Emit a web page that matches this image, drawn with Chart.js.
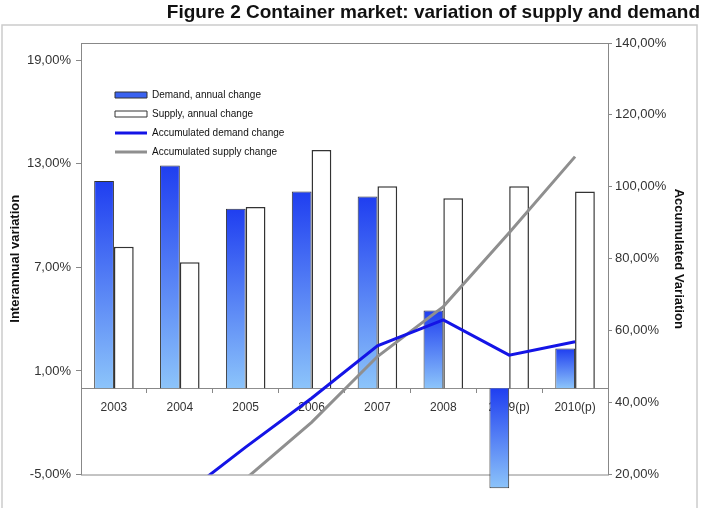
<!DOCTYPE html>
<html>
<head>
<meta charset="utf-8">
<title>Container market</title>
<script src="https://cdn.jsdelivr.net/npm/chart.js@4.4.1/dist/chart.umd.min.js"></script>
<style>
  html, body { margin: 0; padding: 0; background: #fff; }
  #chart { display: block; }
</style>
</head>
<body>
<canvas id="chart" width="703" height="508"></canvas>
<script>
// Data
const years = ['2003', '2004', '2005', '2006', '2007', '2008', '2009(p)', '2010(p)']
const demandAnnual = [12.0, 12.9, 10.4, 11.4, 11.1, 4.5, -5.8, 2.3]
const supplyAnnual = [8.2, 7.3, 10.5, 13.8, 11.7, 11.0, 11.7, 11.4]
const demandAccum = [0, 13.5, 27.6, 41.2, 55.8, 63.0, 53.2, 56.9]
const supplyAccum = [0, 7.3, 18.8, 34.5, 52.8, 66.7, 87.2, 108.4]
const leftTicks = [-5, 1, 7, 13, 19]

const FONT = "'Liberation Sans', Arial, sans-serif"

// Format 13 -> "13,00%"
function pct(v) {
  return Number(v).toFixed(2).replace('.', ',') + '%'
}

// Gradient running from the top of each demand bar to its bottom
function demandFill(context) {
  const chart = context.chart
  if (!chart.chartArea || context.type !== 'data') return '#3a62f0'
  const y = chart.scales.y
  const v = context.raw
  const top = y.getPixelForValue(Math.max(v, 0))
  const bottom = y.getPixelForValue(Math.min(v, 0))
  const g = chart.ctx.createLinearGradient(0, top, 0, bottom)
  g.addColorStop(0, '#1f3ef0')
  g.addColorStop(1, '#8cc4fa')
  return g
}

// Frame around the plot and a light border around the whole figure
const framePlugin = {
  id: 'frame',
  beforeDraw(chart) {
    const ctx = chart.ctx
    ctx.save()
    ctx.strokeStyle = '#cccccc'
    ctx.lineWidth = 1.5
    ctx.strokeRect(2, 25, 695, 500)
    ctx.restore()
  },
  beforeDatasetsDraw(chart) {
    const a = chart.chartArea
    const ctx = chart.ctx
    ctx.save()
    ctx.strokeStyle = '#888888'
    ctx.lineWidth = 1
    ctx.strokeRect(a.left + 0.5, a.top + 0.5, a.right - a.left, a.bottom - a.top)
    ctx.restore()
  },
  // move the legend to the upper left corner of the plot
  afterLayout(chart) {
    const legend = chart.legend
    const a = chart.chartArea
    legend.left = a.left + 25
    legend.top = a.top + 38
    legend.right = legend.left + legend.width
    legend.bottom = legend.top + legend.height
  },
}

const ctx = document.getElementById('chart').getContext('2d')
new Chart(ctx, {
  data: {
    labels: years,
    datasets: [
      {
        type: 'bar',
        label: 'Demand, annual change',
        data: demandAnnual,
        yAxisID: 'y',
        backgroundColor: demandFill,
        borderColor: '#333333',
        borderWidth: 1,
        categoryPercentage: 0.6,
        barPercentage: 1.0,
        clip: false,
        order: 2,
      },
      {
        type: 'bar',
        label: 'Supply, annual change',
        data: supplyAnnual,
        yAxisID: 'y',
        backgroundColor: '#ffffff',
        borderColor: '#333333',
        borderWidth: 1.5,
        categoryPercentage: 0.6,
        barPercentage: 1.0,
        order: 2,
      },
      {
        type: 'line',
        label: 'Accumulated demand change',
        data: demandAccum,
        yAxisID: 'y1',
        borderColor: '#1414e6',
        backgroundColor: '#1414e6',
        borderWidth: 3,
        pointRadius: 0,
        tension: 0,
        order: 0,
      },
      {
        type: 'line',
        label: 'Accumulated supply change',
        data: supplyAccum,
        yAxisID: 'y1',
        borderColor: '#8f8f8f',
        backgroundColor: '#8f8f8f',
        borderWidth: 3,
        pointRadius: 0,
        tension: 0,
        order: 1,
      },
    ],
  },
  options: {
    responsive: false,
    animation: false,
    devicePixelRatio: 1,
    layout: {
      padding: { left: 2, right: 3, top: 0, bottom: 33.5 },
    },
    plugins: {
      title: {
        display: true,
        text: 'Figure 2 Container market: variation of supply and demand',
        align: 'end',
        color: '#111111',
        font: { family: FONT, size: 19, weight: 'bold' },
        padding: { top: 1.5, bottom: 18.7 },
      },
      legend: {
        position: 'chartArea',
        align: 'start',
        labels: {
          usePointStyle: true,
          pointStyleWidth: 32,
          boxHeight: 6,
          padding: 9,
          color: '#111111',
          font: { family: FONT, size: 10 },
          sort: (a, b) => a.datasetIndex - b.datasetIndex,
          generateLabels: (chart) => {
            const items = Chart.defaults.plugins.legend.labels.generateLabels(chart)
            items.forEach((item) => {
              const ds = chart.data.datasets[item.datasetIndex]
              if (ds.type === 'line') {
                item.pointStyle = 'line'
                item.strokeStyle = ds.borderColor
                item.lineWidth = 3
              } else {
                item.pointStyle = 'rect'
                item.fillStyle = item.datasetIndex === 0 ? '#3a62f0' : '#ffffff'
                item.strokeStyle = '#333333'
                item.lineWidth = 1
              }
            })
            return items
          },
        },
      },
      tooltip: { enabled: false },
    },
    scales: {
      x: {
        type: 'category',
        position: { y: 0 },
        offset: true,
        grid: {
          offset: true,
          drawOnChartArea: false,
          tickLength: 4,
          color: '#888888',
        },
        border: { color: '#888888' },
        ticks: {
          color: '#333333',
          padding: 8,
          maxRotation: 0,
          font: { family: FONT, size: 12 },
        },
        afterFit: (scale) => {
          scale.height = 30
        },
      },
      y: {
        position: 'left',
        min: -5,
        max: 20,
        afterBuildTicks: (scale) => {
          scale.ticks = leftTicks.map((v) => ({ value: v }))
        },
        grid: { drawOnChartArea: false, tickLength: 5, color: '#888888' },
        border: { color: '#888888' },
        ticks: {
          color: '#333333',
          padding: 5,
          font: { family: FONT, size: 13 },
          callback: (v) => pct(v),
        },
        title: {
          display: true,
          text: 'Interannual variation',
          color: '#111111',
          font: { family: FONT, size: 13, weight: 'bold' },
          padding: { top: 5.2, bottom: 0 },
        },
        afterFit: (scale) => {
          scale.width = 79
        },
      },
      y1: {
        position: 'right',
        min: 20,
        max: 140,
        ticks: {
          stepSize: 20,
          color: '#333333',
          padding: 3,
          font: { family: FONT, size: 13 },
          callback: (v) => pct(v),
        },
        grid: { drawOnChartArea: false, tickLength: 4, color: '#888888' },
        border: { color: '#888888' },
        title: {
          display: true,
          text: 'Accumulated Variation',
          color: '#111111',
          font: { family: FONT, size: 13, weight: 'bold' },
          padding: { top: 13.9, bottom: 0 },
        },
        afterFit: (scale) => {
          scale.width = 92
        },
      },
    },
  },
  plugins: [framePlugin],
})
</script>
</body>
</html>
